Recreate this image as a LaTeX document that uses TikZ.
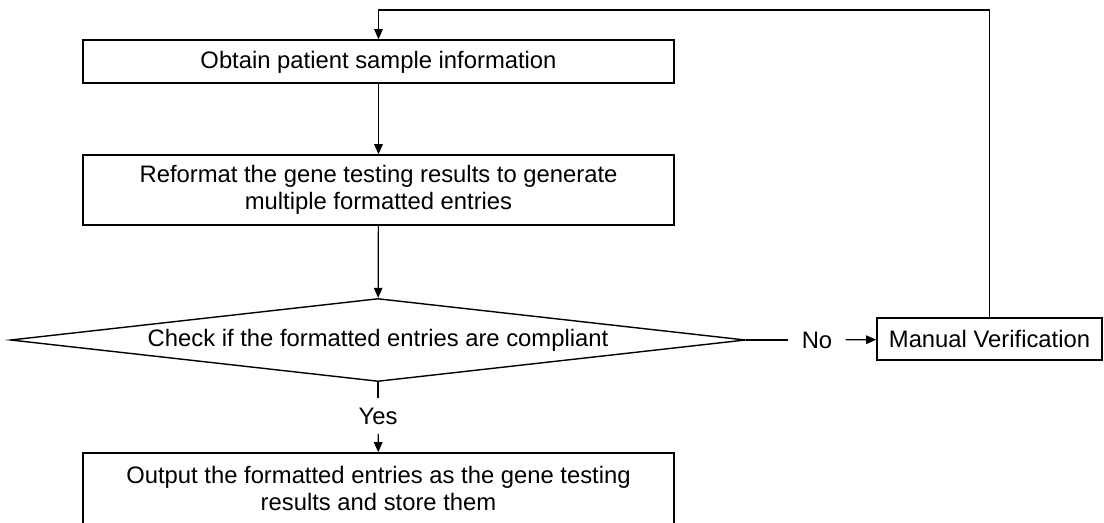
\documentclass[tikz,border=0pt]{standalone}
\usepackage{fontspec}
\setmainfont{Liberation Sans}
\usepackage{tikz}
\usetikzlibrary{shapes.geometric, arrows.meta, positioning}

\begin{document}
\begin{tikzpicture}[
    procblock/.style={rectangle, draw=black, line width=0.9pt, minimum width=11.82cm, align=center, font=\fontsize{13.55}{15.65}\selectfont},
    checkblock/.style={diamond, aspect=8.85, draw=black, line width=0.8pt, minimum width=14.7cm, minimum height=1.66cm, inner sep=0pt, font=\fontsize{13.55}{15.65}\selectfont},
    sideblock/.style={rectangle, draw=black, line width=0.9pt, minimum width=4.5cm, minimum height=0.84cm, font=\fontsize{13.55}{15.65}\selectfont},
    lbl/.style={inner xsep=0.26cm, inner ysep=0.18cm, font=\fontsize{13.55}{15.65}\selectfont},
    flow/.style={-{Triangle[length=0.2cm, width=0.17cm]}, line width=0.7pt},
    plain/.style={line width=0.7pt}]
    \useasboundingbox (0,0) rectangle (22.08,-10.44);

    % main column
    \node[procblock, minimum height=0.86cm, text depth=0.05cm] (s1) at (7.57,-1.23) {Obtain patient sample information};
    \node[procblock, minimum height=1.4cm] (s2) at (7.57,-3.8) {Reformat the gene testing results to generate\\multiple formatted entries};
    \node[checkblock] (chk) at (7.56,-6.8) {Check if the formatted entries are compliant};
    \node[lbl] (yes) at (7.56,-8.32) {Yes};
    \node[procblock, minimum height=1.42cm] (out) at (7.57,-9.77) {Output the formatted entries as the gene testing\\results and store them};

    % side branch
    \node[lbl] (no) at (16.34,-6.8) {No};
    \node[sideblock] (mv) at (19.79,-6.78) {Manual Verification};
    \coordinate (loop) at (7.57,-0.2);

    \draw[flow] (s1) -- (s2);
    \draw[flow] (s2) -- (chk);
    \draw[plain] (chk.south) -- (yes);
    \draw[flow] (yes) -- (out);
    \draw[plain] (chk.east) -- (no);
    \draw[flow] (no) -- (mv);
    \draw[flow] (mv.north) |- (loop) -- (s1.north);
\end{tikzpicture}
\end{document}
